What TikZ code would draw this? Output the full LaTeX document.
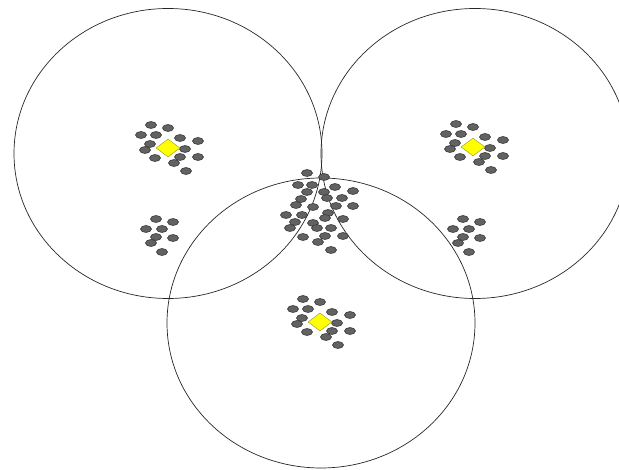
\documentclass[tikz,border=0pt]{standalone}
\usetikzlibrary{shapes.geometric}
\definecolor{dotgray}{RGB}{98,98,98}
\definecolor{dotedge}{RGB}{55,55,55}
\definecolor{hubyellow}{RGB}{255,255,0}
\definecolor{hubedge}{RGB}{150,150,40}

\begin{document}
\begin{tikzpicture}[x=1pt,y=-1pt,
  cellring/.style={draw=black!85,line width=0.7pt,ellipse,minimum width=308pt,minimum height=290pt,inner sep=0pt},
  dot/.style={draw=dotedge,fill=dotgray,ellipse,line width=0.6pt,minimum width=11pt,minimum height=7pt,inner sep=0pt},
  hub/.style={draw=hubedge,fill=hubyellow,diamond,line width=0.4pt,minimum width=24pt,minimum height=18pt,inner sep=0pt}]
\useasboundingbox (0,0) rectangle (619,470);
% coverage rings
\node[cellring] (left) at (168,153.5) {};
\node[cellring] (right) at (475,153.5) {};
\node[cellring] (bottom) at (321,323) {};
% clusters with a yellow head
\foreach \cx/\cy/\k in {168/148/a,473/147/b,320/322/c}{
  \foreach \dx/\dy [count=\i] in {-17/-23,0/-20,-27/-13,-12/-13,12/-10,30/-7,-18/-4,-23/2,17/1,-13/10,12/9,30/9,6/15,18/23}
    \node[dot] (\k\i) at (\cx+\dx,\cy+\dy) {};
  \node[hub] (\k0) at (\cx,\cy) {};
}
% small groups without a head
\foreach \cx/\cy/\k in {156/229/s,463/229/t}{
  \foreach \dx/\dy [count=\i] in {0/-10,17/-7,-10/0,6/0,0/8,17/9,-5/14,6/23}
    \node[dot] (\k\i) at (\cx+\dx,\cy+\dy) {};
}
% dense group in the middle
\foreach \x/\y [count=\i] in {307/173,324/177,298/185,312/185,335/187,353/191,307/192,324/192,301/199,327/198,
  342/198,296/205,313/207,336/206,353/206,286/215,302/215,328/213,325/218,343/219,
  295/222,313/223,290/228,317/228,331/228,303/237,325/236,343/236,318/242,331/250}
  \node[dot] (m\i) at (\x,\y) {};
\end{tikzpicture}
\end{document}
